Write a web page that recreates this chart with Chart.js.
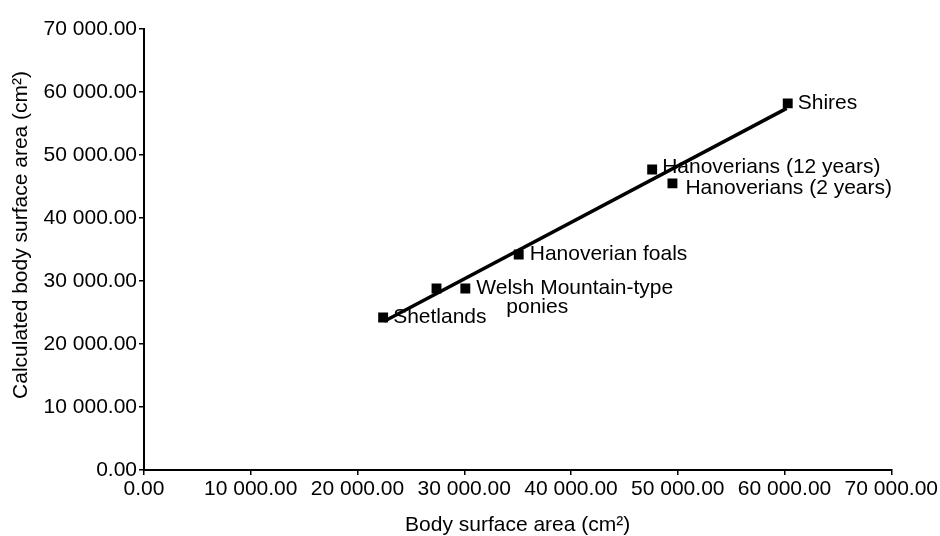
<!DOCTYPE html>
<html>
<head>
<meta charset="utf-8">
<script src="https://cdn.jsdelivr.net/npm/chart.js@4.4.1/dist/chart.umd.min.js"></script>
<style>
  html, body { margin: 0; padding: 0; background: #ffffff; }
  #bsachart { display: block; }
</style>
</head>
<body>
<canvas id="bsachart" width="940" height="536"></canvas>
<script>
// measured vs calculated body surface area (cm2)
const groupNames = ["Shetlands", "", "Welsh Mountain-type\nponies", "Hanoverian foals", "Hanoverians (12 years)", "Hanoverians (2 years)", "Shires"];
const measuredBsa = [22400, 27400, 30100, 35100, 47600, 49500, 60300];
const calculatedBsa = [24200, 28800, 28800, 34200, 47700, 45500, 58200];

// regression line end points
const fitX = [22500, 60200];
const fitY = [23600, 57400];

const axisTicks = [0, 10000, 20000, 30000, 40000, 50000, 60000, 70000];

const fontFamily = "'Liberation Sans', Arial, Helvetica, sans-serif";

function fmtNum(v) {
    const parts = Number(v).toFixed(2).split(".");
    parts[0] = parts[0].replace(/\B(?=(\d{3})+(?!\d))/g, " ");
    return parts.join(".");
}

// label offsets next to each marker (px)
const labelOffsets = [[10, 0], [0, 0], [11, 0], [11, 0], [10, -2], [13, 5], [10, 0]];

const pointLabels = {
    id: "pointLabels",
    afterDatasetsDraw(chart) {
        const ctx = chart.ctx;
        const meta = chart.getDatasetMeta(1);
        ctx.save();
        ctx.font = "21px " + fontFamily;
        ctx.fillStyle = "#000000";
        ctx.textAlign = "left";
        ctx.textBaseline = "middle";
        meta.data.forEach(function(pt, i) {
            const name = groupNames[i];
            if (!name) return;
            const lines = name.split("\n");
            const off = labelOffsets[i];
            lines.forEach(function(line, j) {
                ctx.fillText(line, pt.x + off[0] + (j ? 30 : 0), pt.y + off[1] + j * 19);
            });
        });
        ctx.restore();
    }
};

const axisStyle = {
    min: 0,
    max: 70000,
    afterBuildTicks: function(scale) {
        scale.ticks = axisTicks.map(function(v) { return { value: v }; });
    },
    grid: {
        display: true,
        drawOnChartArea: false,
        drawTicks: true,
        tickLength: 5,
        color: "#000000",
        lineWidth: 1.5
    },
    border: { display: true, color: "#000000", width: 2 },
    ticks: {
        color: "#000000",
        font: { family: fontFamily, size: 21 },
        callback: function(v) { return fmtNum(v); },
        maxRotation: 0,
        autoSkip: false
    }
};

new Chart(document.getElementById("bsachart"), {
    type: "scatter",
    data: {
        datasets: [
            {
                label: "fit",
                data: fitX.map(function(x, i) { return { x: x, y: fitY[i] }; }),
                showLine: true,
                borderColor: "#000000",
                borderWidth: 3.5,
                pointRadius: 0,
                order: 2
            },
            {
                label: "groups",
                data: measuredBsa.map(function(x, i) { return { x: x, y: calculatedBsa[i] }; }),
                pointStyle: "rect",
                pointRadius: 7,
                pointBackgroundColor: "#000000",
                pointBorderColor: "#000000",
                pointBorderWidth: 0,
                showLine: false,
                order: 1
            }
        ]
    },
    options: {
        responsive: false,
        animation: false,
        devicePixelRatio: 1,
        layout: { padding: { top: 29, right: 48, bottom: 0, left: 0 } },
        plugins: {
            legend: { display: false },
            tooltip: { enabled: false }
        },
        scales: {
            x: Object.assign({}, axisStyle, {
                type: "linear",
                position: "bottom",
                ticks: Object.assign({}, axisStyle.ticks, { padding: 2 }),
                title: {
                    display: true,
                    text: "Body surface area (cm²)",
                    color: "#000000",
                    font: { family: fontFamily, size: 21, lineHeight: 1 },
                    padding: { top: 0, bottom: 0 }
                },
                afterFit: function(scale) { scale.height = 66; }
            }),
            y: Object.assign({}, axisStyle, {
                type: "linear",
                position: "left",
                ticks: Object.assign({}, axisStyle.ticks, { padding: 2 }),
                title: {
                    display: true,
                    // leading spaces nudge the centred title upwards
                    text: "     Calculated body surface area (cm²)",
                    color: "#000000",
                    font: { family: fontFamily, size: 21, lineHeight: 1 },
                    padding: { top: 11, bottom: 0 }
                },
                afterFit: function(scale) { scale.width = 144; }
            })
        }
    },
    plugins: [pointLabels]
});
</script>
</body>
</html>
